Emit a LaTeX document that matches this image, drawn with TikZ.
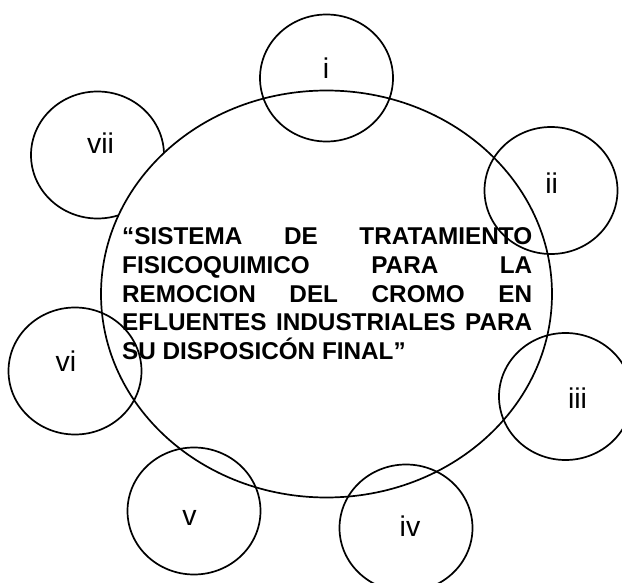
\documentclass[tikz,border=0pt]{standalone}
\usepackage{fontspec}
\setmainfont{Liberation Sans}
\newfontfamily\arialfont{Liberation Sans}
\usetikzlibrary{shapes.geometric}
\tikzset{
  ring/.style={draw=black, line width=1.7pt, ellipse, inner sep=0pt, minimum width=133pt, minimum height=127pt},
  bigring/.style={draw=black, fill=white, line width=1.7pt, ellipse, inner sep=0pt, minimum width=451pt, minimum height=407pt},
  lab/.style={anchor=base, inner sep=0pt, font=\arialfont\fontsize{28.5}{32}\selectfont},
  titletext/.style={anchor=base west, inner sep=0pt, font=\arialfont\bfseries\fontsize{24.3}{28.6}\selectfont}
}
\begin{document}
\begin{tikzpicture}[x=1pt,y=-1pt]
\useasboundingbox (0,0) rectangle (622,583);
\clip (0,0) rectangle (622,583);
\node[ring] (c7) at (97.5,155) {};
\node[bigring] (main) at (326.5,294) {};
\node[ring] (c1) at (326.5,78) {};
\node[ring] (c2) at (551,190.5) {};
\node[ring] (c3) at (565.5,396.5) {};
\node[ring] (c4) at (406,528) {};
\node[ring] (c5) at (194,511) {};
\node[ring] (c6) at (75,371) {};
\node[titletext] (title) at (122,245) {\parbox[t]{410pt}{\baselineskip=28.6pt\relax
\makebox[410pt][s]{“SISTEMA DE TRATAMIENTO}\\
\makebox[410pt][s]{FISICOQUIMICO PARA LA}\\
\makebox[410pt][s]{REMOCION DEL CROMO EN}\\
\makebox[410pt][s]{EFLUENTES INDUSTRIALES PARA}\\
SU DISPOSICÓN FINAL”}};
\node[lab] (l1) at (326,78.3) {i};
\node[lab] (l2) at (551.7,194) {ii};
\node[lab] (l3) at (577.5,408) {iii};
\node[lab] (l4) at (410,536.7) {iv};
\node[lab] (l5) at (189.5,525) {v};
\node[lab] (l6) at (66,371) {vi};
\node[lab] (l7) at (100.5,154) {vii};
\end{tikzpicture}
\end{document}
